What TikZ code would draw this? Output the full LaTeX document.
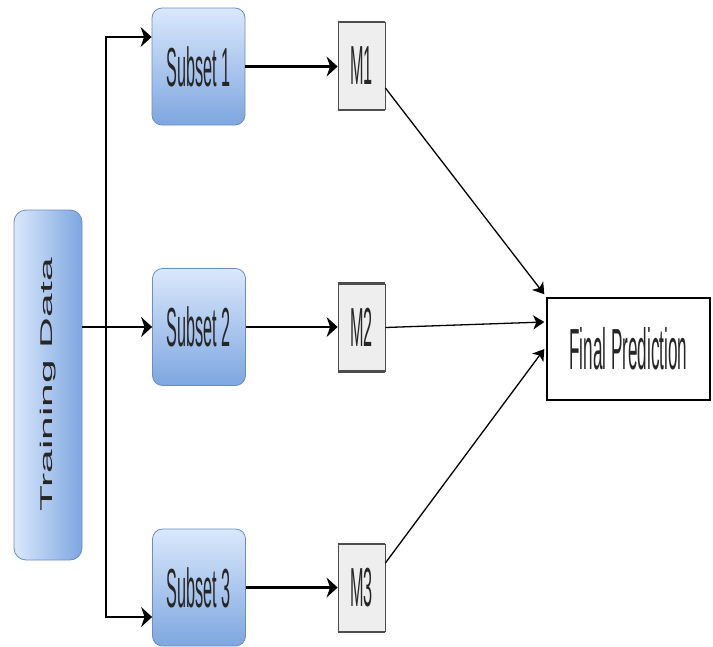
\documentclass[tikz,border=0pt]{standalone}
\usepackage{fontspec}
\setmainfont{Liberation Sans}
\usetikzlibrary{arrows.meta}
\definecolor{txt}{HTML}{262626}
\definecolor{bluetop}{HTML}{DAE8FC}
\definecolor{bluebot}{HTML}{7EA6E0}
\definecolor{blueedge}{HTML}{6C8EBF}
\definecolor{mfill}{HTML}{EEEEEE}
\definecolor{medge}{HTML}{4D4D4D}
\newcommand\narrowtext[2]{\scalebox{0.295}[1]{\fontsize{#1}{#1}\selectfont #2}}
\tikzset{
  subsetbox/.style={draw=blueedge, line width=0.8pt, rounded corners=10pt,
    top color=bluetop, bottom color=bluebot, minimum width=93pt, minimum height=117pt,
    inner sep=0pt, text=txt},
  databox/.style={draw=blueedge, line width=0.8pt, rounded corners=12pt,
    left color=bluetop, right color=bluebot, minimum width=68pt, minimum height=350pt,
    inner sep=0pt, text=txt},
  modelbox/.style={draw=medge, line width=0.8pt, fill=mfill, minimum width=47pt,
    minimum height=87pt, inner sep=0pt, text=txt},
  finalbox/.style={draw=black, line width=1.4pt, fill=white, minimum width=163pt,
    minimum height=102pt, inner sep=0pt, text=txt},
  arr/.style={-{Stealth[length=11pt,width=20pt,inset=3.5pt]}, line width=2.2pt, black},
  arrboth/.style={{Stealth[length=11pt,width=20pt,inset=3.5pt]}-{Stealth[length=11pt,width=20pt,inset=3.5pt]}, line width=1.3pt, black},
  diag/.style={-{Stealth[length=11pt,width=14pt,inset=3pt]}, line width=1.3pt, black},
  edgeline/.style={line width=2.4pt, medge},
}
\begin{document}
\begin{tikzpicture}[x=1pt, y=-1pt]
\useasboundingbox (0,0) rectangle (713,646);
\clip (0,0) rectangle (713,646);

% nodes
\node[databox] (TD) at (48,385) {\rotatebox{90}{\scalebox{2.5}[1]{\fontsize{17}{17}\selectfont Training Data}}};
\node[subsetbox] (S1) at (198.5,66.5) {\narrowtext{55}{Subset 1}};
\node[subsetbox] (S2) at (199,327) {\narrowtext{55}{Subset 2}};
\node[subsetbox] (S3) at (199,587.5) {\narrowtext{55}{Subset 3}};
\node[modelbox] (M1) at (361.5,66) {\narrowtext{55}{M1}};
\node[modelbox] (M2) at (361.5,327.5) {\narrowtext{55}{M2}};
\node[modelbox] (M3) at (361.5,588) {\narrowtext{55}{M3}};
\node[finalbox] (F) at (628.5,349) {\narrowtext{58}{Final Prediction}};

% heavier top and bottom edges of the model boxes
\foreach \m in {M1,M2,M3}{
  \draw[edgeline] (\m.north west) -- (\m.north east);
  \draw[edgeline] (\m.south west) -- (\m.south east);
}

% connectors
\coordinate (j1) at (106,37);
\coordinate (j2) at (106,617);
\draw[arrboth] (j1 -| S1.west) -- (j1) -- (j2) -- (j2 -| S3.west);
\draw[arr] (TD.east |- S2.west) -- (S2.west);

\draw[arr] (S1.east) -- (M1.west |- S1.east);
\draw[arr] (S2.east) -- (M2.west |- S2.east);
\draw[arr] (S3.east) -- (M3.west |- S3.east);

\draw[diag] ([yshift=-22pt]M1.east) -- ([xshift=-2pt,yshift=3pt]F.north west);
\draw[diag] (M2.east) -- ([xshift=-2pt,yshift=27pt]F.west);
\draw[diag] ([yshift=25pt]M3.east) -- ([xshift=-2pt]F.west);
\end{tikzpicture}
\end{document}
